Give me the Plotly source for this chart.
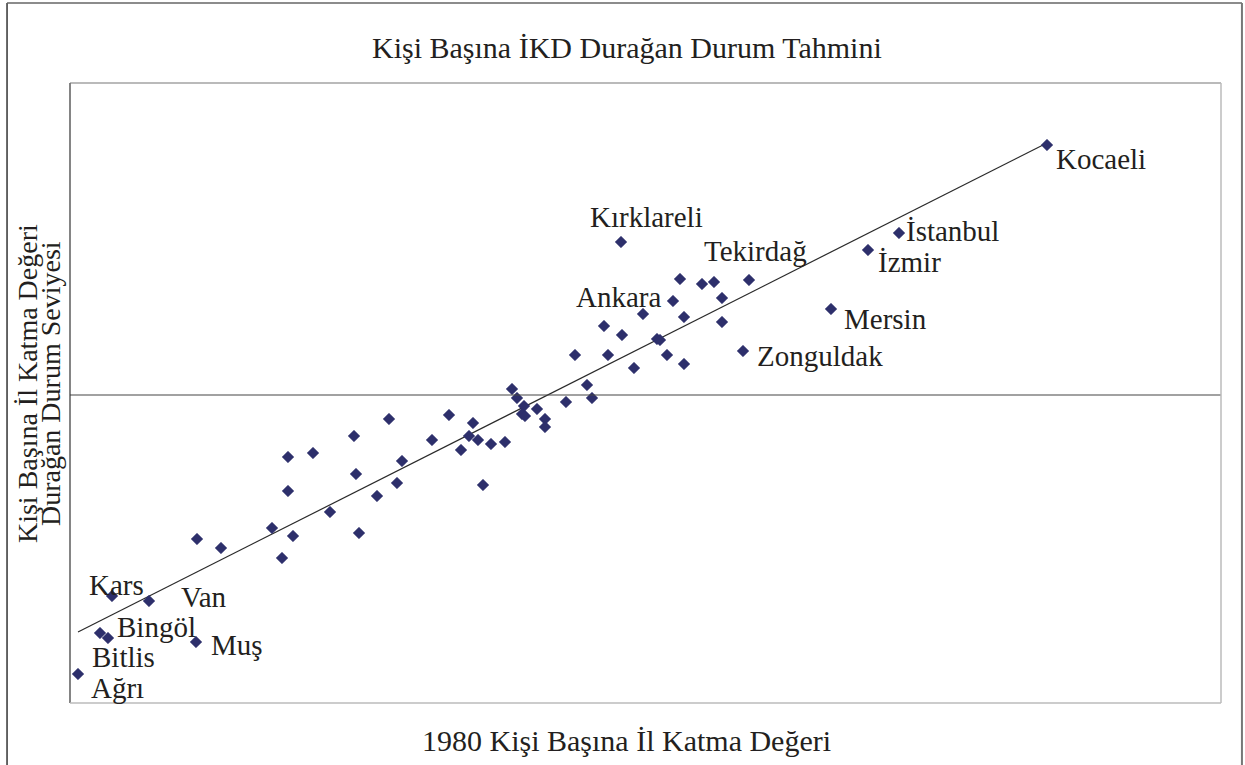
import plotly.graph_objects as go

# 1980 value (x) vs steady-state level (y), arbitrary index units
names = ["Kocaeli", "İstanbul", "İzmir", "Mersin", "Zonguldak", "Tekirdağ",
         "Kırklareli", "Ankara", "Kars", "Van", "Bingöl", "Bitlis", "Muş", "Ağrı"]
x_named = [97.7, 82.9, 79.8, 76.1, 67.3, 67.9, 55.1, 60.3, 4.2, 7.9, 3.0, 3.8, 12.6, 0.8]
y_named = [55.8, 47.0, 45.3, 39.4, 35.2, 42.3, 46.1, 40.2, 10.7, 10.2, 7.0, 6.5, 6.1, 2.9]

x_other = [61.0, 63.2, 64.4, 65.2, 57.3, 61.4, 65.2, 53.4, 55.2, 58.7, 59.0, 50.5,
           53.8, 59.7, 61.4, 56.4, 51.7, 52.2, 49.6, 44.2, 44.7, 45.4, 46.7, 45.2,
           45.5, 47.5, 47.5, 40.3, 37.9, 36.2, 39.9, 40.8, 42.1, 43.5, 39.1, 41.3,
           31.9, 28.4, 33.2, 28.6, 32.7, 30.7, 26.0, 24.3, 21.8, 21.8, 20.2, 22.3,
           28.9, 21.2, 12.7, 15.1]
y_other = [42.4, 41.9, 42.1, 40.5, 38.9, 38.6, 38.1, 37.7, 36.8, 36.4, 36.3, 34.8,
           34.8, 34.8, 33.9, 33.5, 31.8, 30.5, 30.1, 31.4, 30.5, 29.7, 29.4, 28.9,
           28.7, 28.4, 27.6, 28.0, 28.8, 26.3, 26.7, 26.3, 25.9, 26.1, 25.3, 21.8,
           28.4, 26.7, 24.2, 22.9, 22.0, 20.7, 19.1, 25.0, 24.6, 21.2, 17.5, 16.7,
           17.0, 14.5, 16.4, 15.5]

# fitted line end points and the steady-state mean level
fit_x = [0.8, 97.7]
fit_y = [7.1, 56.0]
mean_level = 30.8

# label offsets in pixels (dx, dy, anchor)
label_pos = {
    "Kocaeli": (7, -14, "left"),
    "İstanbul": (5, 2, "left"),
    "İzmir": (8, -12, "left"),
    "Mersin": (11, -10, "left"),
    "Zonguldak": (12, -5, "left"),
    "Tekirdağ": (6, 29, "center"),
    "Kırklareli": (25, 25, "center"),
    "Ankara": (-10, 4, "right"),
    "Kars": (4, 11, "center"),
    "Van": (30, 4, "left"),
    "Bingöl": (15, 6, "left"),
    "Bitlis": (15, -19, "center"),
    "Muş": (13, -3, "left"),
    "Ağrı": (11, -14, "left"),
}

navy = "#2d2f6b"
txt = "#231f20"
font = "Liberation Serif"

fig = go.Figure()

fig.add_trace(go.Scatter(x=fit_x, y=fit_y, mode="lines",
                         line=dict(color="#2a2a2a", width=1.2), hoverinfo="skip"))

fig.add_trace(go.Scatter(x=x_other + x_named, y=y_other + y_named, mode="markers",
                         marker=dict(symbol="diamond", size=9, color=navy,
                                     line=dict(color=navy, width=0.5))))

fig.add_shape(type="line", xref="paper", x0=0, x1=1, yref="y", y0=mean_level, y1=mean_level,
              line=dict(color="#444444", width=1.2))

for n, xv, yv in zip(names, x_named, y_named):
    dx, dy, anc = label_pos[n]
    fig.add_annotation(x=xv, y=yv, text=n, showarrow=False, xanchor=anc, yanchor="middle",
                       xshift=dx, yshift=dy, font=dict(family=font, size=29, color=txt))

# titles
fig.add_annotation(text="Kişi Başına İKD Durağan Durum Tahmini", xref="paper", yref="paper",
                   x=0.4839, y=1.058, showarrow=False, xanchor="center", yanchor="middle",
                   font=dict(family=font, size=30, color=txt))
fig.add_annotation(text="1980 Kişi Başına İl Katma Değeri", xref="paper", yref="paper",
                   x=0.4831, y=-0.0597, showarrow=False, xanchor="center", yanchor="middle",
                   font=dict(family=font, size=30, color=txt))
fig.add_annotation(text="Kişi Başına İl Katma Değeri", xref="paper", yref="paper",
                   x=-0.0374, y=0.516, showarrow=False, textangle=-90, xanchor="center",
                   yanchor="middle", font=dict(family=font, size=28, color=txt))
fig.add_annotation(text="Durağan Durum Seviyesi", xref="paper", yref="paper",
                   x=-0.0174, y=0.516, showarrow=False, textangle=-90, xanchor="center",
                   yanchor="middle", font=dict(family=font, size=28, color=txt))

# plot frame
fig.add_shape(type="line", xref="paper", yref="paper", x0=0, x1=0, y0=0, y1=1,
              line=dict(color="#333333", width=1.2))
fig.add_shape(type="line", xref="paper", yref="paper", x0=0, x1=1, y0=1, y1=1,
              line=dict(color="#777777", width=1.2))
fig.add_shape(type="line", xref="paper", yref="paper", x0=1, x1=1, y0=0, y1=1,
              line=dict(color="#bbbbbb", width=1.5))
fig.add_shape(type="line", xref="paper", yref="paper", x0=0, x1=1, y0=0, y1=0,
              line=dict(color="#bbbbbb", width=1.5))

# outer frame
fig.add_shape(type="line", xref="paper", yref="paper", x0=-0.0547, x1=-0.0547, y0=-0.12, y1=1.129,
              line=dict(color="#333333", width=1.5))
fig.add_shape(type="line", xref="paper", yref="paper", x0=-0.0547, x1=1.0182, y0=1.129, y1=1.129,
              line=dict(color="#666666", width=1.5))
fig.add_shape(type="line", xref="paper", yref="paper", x0=1.0182, x1=1.0182, y0=-0.12, y1=1.129,
              line=dict(color="#777777", width=2))

fig.update_layout(
    width=1245, height=765,
    margin=dict(l=70, r=24, t=83, b=62),
    paper_bgcolor="white", plot_bgcolor="white",
    showlegend=False,
    xaxis=dict(range=[0, 115.1], showticklabels=False, showgrid=False, zeroline=False,
               ticks="", showline=False),
    yaxis=dict(range=[0, 62], showticklabels=False, showgrid=False, zeroline=False,
               ticks="", showline=False),
)

# drop the default page margin so the figure sits at the window corner
fig.write_html("out.html", config={"displayModeBar": False},
               post_script="document.body.style.margin='0';")
